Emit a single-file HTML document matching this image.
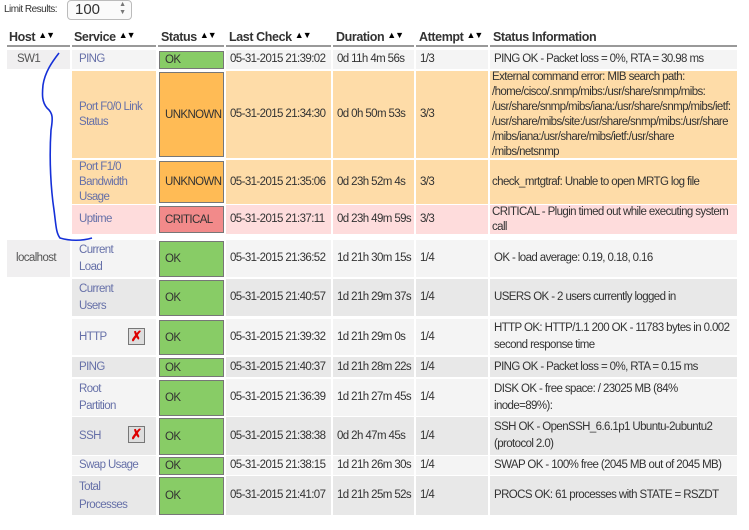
<!DOCTYPE html>
<html><head><meta charset="utf-8"><style>
body{margin:0;width:749px;height:530px;background:#fff;position:relative;overflow:hidden;font-family:"Liberation Sans",sans-serif;font-size:11.5px;letter-spacing:-0.6px;color:#333}
.c{position:absolute;display:flex;align-items:center;box-sizing:border-box;padding-left:4px;line-height:15px;white-space:nowrap}
.l{background:#f4f4f4}.d{background:#e8e8e8}.u{background:#fedca8}.r{background:#fedcdc}
.s{color:#6670a8;padding-left:7px}
.st{position:absolute;box-sizing:border-box;border:1px solid #777;display:flex;align-items:center;padding-left:5px;left:159px;width:65px}
.ok{background:#88cc66}.un{background:#ffbb55}.cr{background:#f28a8a}
.h{position:absolute;top:30px;font-weight:bold;font-size:12.5px;color:#333;letter-spacing:-0.4px;white-space:nowrap}
.ul{position:absolute;top:45px;height:2px;background:#999}
.ar{font-size:9px;letter-spacing:-1px;vertical-align:top;color:#000}
.ic{position:absolute;left:128px;width:17px;height:17px;border:1px solid #777;background:#ddd;box-sizing:border-box;color:#d00;font-size:14px;line-height:15px;text-align:center;font-weight:bold;letter-spacing:0}
</style></head><body>
<div style="position:absolute;left:4px;top:4px;font-size:10px;color:#333;letter-spacing:-0.5px">Limit Results:</div>
<div style="position:absolute;left:67px;top:0;width:65px;height:20px;border:1px solid #bbb;border-radius:4px;box-sizing:border-box;font-size:15px;padding-left:7px;line-height:18px;background:#fafafa;letter-spacing:0">100<span style="position:absolute;right:5px;top:0;font-size:7px;line-height:8px;color:#777">▲<br>▼</span></div>

<div class="h" style="left:9px">Host <span class="ar">▲▼</span></div>
<div class="h" style="left:74px">Service <span class="ar">▲▼</span></div>
<div class="h" style="left:161px">Status <span class="ar">▲▼</span></div>
<div class="h" style="left:229px">Last Check <span class="ar">▲▼</span></div>
<div class="h" style="left:336px">Duration <span class="ar">▲▼</span></div>
<div class="h" style="left:419px">Attempt <span class="ar">▲▼</span></div>
<div class="h" style="left:493px">Status Information</div>
<div class="ul" style="left:7px;width:63px"></div><div class="ul" style="left:72px;width:84px"></div><div class="ul" style="left:158px;width:66px"></div><div class="ul" style="left:226px;width:105px"></div><div class="ul" style="left:333px;width:81px"></div><div class="ul" style="left:416px;width:72px"></div><div class="ul" style="left:490px;width:247px"></div>

<div class="c" style="left:7px;top:50px;width:63px;height:19px;background:#f0eff0;padding-left:10px;color:#555">SW1</div>
<div class="c" style="left:7px;top:240px;width:63px;height:37px;background:#f0eff0;padding-left:9px;color:#555">localhost</div>

<!-- r1 -->
<div class="c l s" style="left:72px;top:50px;width:84px;height:19px">PING</div>
<div class="st ok" style="top:51px;height:18px">OK</div>
<div class="c l" style="left:226px;top:50px;width:105px;height:19px">05-31-2015 21:39:02</div>
<div class="c l" style="left:333px;top:50px;width:81px;height:19px">0d 11h 4m 56s</div>
<div class="c l" style="left:416px;top:50px;width:72px;height:19px">1/3</div>
<div class="c l" style="left:490px;top:50px;width:247px;height:19px">PING OK - Packet loss = 0%, RTA = 30.98 ms</div>
<!-- r2 -->
<div class="c u s" style="left:72px;top:71px;width:84px;height:87px">Port F0/0 Link<br>Status</div>
<div class="st un" style="top:72px;height:85px">UNKNOWN</div>
<div class="c u" style="left:226px;top:71px;width:105px;height:87px">05-31-2015 21:34:30</div>
<div class="c u" style="left:333px;top:71px;width:81px;height:87px">0d 0h 50m 53s</div>
<div class="c u" style="left:416px;top:71px;width:72px;height:87px">3/3</div>
<div class="c u" style="left:490px;top:71px;width:247px;height:87px;padding-left:2px">External command error: MIB search path:<br>/home/cisco/.snmp/mibs:/usr/share/snmp/mibs:<br>/usr/share/snmp/mibs/iana:/usr/share/snmp/mibs/ietf:<br>/usr/share/mibs/site:/usr/share/snmp/mibs:/usr/share<br>/mibs/iana:/usr/share/mibs/ietf:/usr/share<br>/mibs/netsnmp</div>
<!-- r3 -->
<div class="c u s" style="left:72px;top:160px;width:84px;height:44px">Port F1/0<br>Bandwidth<br>Usage</div>
<div class="st un" style="top:161px;height:42px">UNKNOWN</div>
<div class="c u" style="left:226px;top:160px;width:105px;height:44px">05-31-2015 21:35:06</div>
<div class="c u" style="left:333px;top:160px;width:81px;height:44px">0d 23h 52m 4s</div>
<div class="c u" style="left:416px;top:160px;width:72px;height:44px">3/3</div>
<div class="c u" style="left:490px;top:160px;width:247px;height:44px;padding-left:2px">check_mrtgtraf: Unable to open MRTG log file</div>
<!-- r4 -->
<div class="c r s" style="left:72px;top:205px;width:84px;height:29px">Uptime</div>
<div class="st cr" style="top:206px;height:27px">CRITICAL</div>
<div class="c r" style="left:226px;top:205px;width:105px;height:29px">05-31-2015 21:37:11</div>
<div class="c r" style="left:333px;top:205px;width:81px;height:29px">0d 23h 49m 59s</div>
<div class="c r" style="left:416px;top:205px;width:72px;height:29px">3/3</div>
<div class="c r" style="left:490px;top:205px;width:247px;height:29px;padding-left:2px">CRITICAL - Plugin timed out while executing system<br>call</div>
<!-- r5 -->
<div class="c l s" style="left:72px;top:240px;width:84px;height:37px;line-height:17px">Current<br>Load</div>
<div class="st ok" style="top:241px;height:36px">OK</div>
<div class="c l" style="left:226px;top:240px;width:105px;height:37px">05-31-2015 21:36:52</div>
<div class="c l" style="left:333px;top:240px;width:81px;height:37px">1d 21h 30m 15s</div>
<div class="c l" style="left:416px;top:240px;width:72px;height:37px">1/4</div>
<div class="c l" style="left:490px;top:240px;width:247px;height:37px">OK - load average: 0.19, 0.18, 0.16</div>
<!-- r6 -->
<div class="c d s" style="left:72px;top:279px;width:84px;height:37px;line-height:17px">Current<br>Users</div>
<div class="st ok" style="top:280px;height:36px">OK</div>
<div class="c d" style="left:226px;top:279px;width:105px;height:37px">05-31-2015 21:40:57</div>
<div class="c d" style="left:333px;top:279px;width:81px;height:37px">1d 21h 29m 37s</div>
<div class="c d" style="left:416px;top:279px;width:72px;height:37px">1/4</div>
<div class="c d" style="left:490px;top:279px;width:247px;height:37px">USERS OK - 2 users currently logged in</div>
<!-- r7 -->
<div class="c l s" style="left:72px;top:319px;width:84px;height:36px">HTTP</div>
<div class="ic" style="top:328px">✗</div>
<div class="st ok" style="top:320px;height:35px">OK</div>
<div class="c l" style="left:226px;top:319px;width:105px;height:36px">05-31-2015 21:39:32</div>
<div class="c l" style="left:333px;top:319px;width:81px;height:36px">1d 21h 29m 0s</div>
<div class="c l" style="left:416px;top:319px;width:72px;height:36px">1/4</div>
<div class="c l" style="left:490px;top:319px;width:247px;height:36px;line-height:17px">HTTP OK: HTTP/1.1 200 OK - 11783 bytes in 0.002<br>second response time</div>
<!-- r8 -->
<div class="c d s" style="left:72px;top:357px;width:84px;height:20px">PING</div>
<div class="st ok" style="top:358px;height:19px">OK</div>
<div class="c d" style="left:226px;top:357px;width:105px;height:20px">05-31-2015 21:40:37</div>
<div class="c d" style="left:333px;top:357px;width:81px;height:20px">1d 21h 28m 22s</div>
<div class="c d" style="left:416px;top:357px;width:72px;height:20px">1/4</div>
<div class="c d" style="left:490px;top:357px;width:247px;height:20px">PING OK - Packet loss = 0%, RTA = 0.15 ms</div>
<!-- r9 -->
<div class="c l s" style="left:72px;top:379px;width:84px;height:37px;line-height:17px">Root<br>Partition</div>
<div class="st ok" style="top:380px;height:36px">OK</div>
<div class="c l" style="left:226px;top:379px;width:105px;height:37px">05-31-2015 21:36:39</div>
<div class="c l" style="left:333px;top:379px;width:81px;height:37px">1d 21h 27m 45s</div>
<div class="c l" style="left:416px;top:379px;width:72px;height:37px">1/4</div>
<div class="c l" style="left:490px;top:379px;width:247px;height:37px;line-height:17px">DISK OK - free space: / 23025 MB (84%<br>inode=89%):</div>
<!-- r10 -->
<div class="c d s" style="left:72px;top:417px;width:84px;height:38px">SSH</div>
<div class="ic" style="top:426px">✗</div>
<div class="st ok" style="top:418px;height:37px">OK</div>
<div class="c d" style="left:226px;top:417px;width:105px;height:38px">05-31-2015 21:38:38</div>
<div class="c d" style="left:333px;top:417px;width:81px;height:38px">0d 2h 47m 45s</div>
<div class="c d" style="left:416px;top:417px;width:72px;height:38px">1/4</div>
<div class="c d" style="left:490px;top:417px;width:247px;height:38px;line-height:17px">SSH OK - OpenSSH_6.6.1p1 Ubuntu-2ubuntu2<br>(protocol 2.0)</div>
<!-- r11 -->
<div class="c l s" style="left:72px;top:456px;width:84px;height:19px">Swap Usage</div>
<div class="st ok" style="top:457px;height:18px">OK</div>
<div class="c l" style="left:226px;top:456px;width:105px;height:19px">05-31-2015 21:38:15</div>
<div class="c l" style="left:333px;top:456px;width:81px;height:19px">1d 21h 26m 30s</div>
<div class="c l" style="left:416px;top:456px;width:72px;height:19px">1/4</div>
<div class="c l" style="left:490px;top:456px;width:247px;height:19px">SWAP OK - 100% free (2045 MB out of 2045 MB)</div>
<!-- r12 -->
<div class="c d s" style="left:72px;top:476px;width:84px;height:39px;line-height:18px">Total<br>Processes</div>
<div class="st ok" style="top:477px;height:38px">OK</div>
<div class="c d" style="left:226px;top:476px;width:105px;height:39px">05-31-2015 21:41:07</div>
<div class="c d" style="left:333px;top:476px;width:81px;height:39px">1d 21h 25m 52s</div>
<div class="c d" style="left:416px;top:476px;width:72px;height:39px">1/4</div>
<div class="c d" style="left:490px;top:476px;width:247px;height:39px">PROCS OK: 61 processes with STATE = RSZDT</div>

<svg style="position:absolute;left:0;top:0" width="749" height="530"><path d="M59,53 C52,62 45,72 43,85 C42,95 42,102 47,108 C53,113 53,118 51,130 C49,160 51,190 54,210 C56,225 56,233 60,238 C70,241 82,241 92,238" fill="none" stroke="#1530d8" stroke-width="1.6"/></svg>
</body></html>
